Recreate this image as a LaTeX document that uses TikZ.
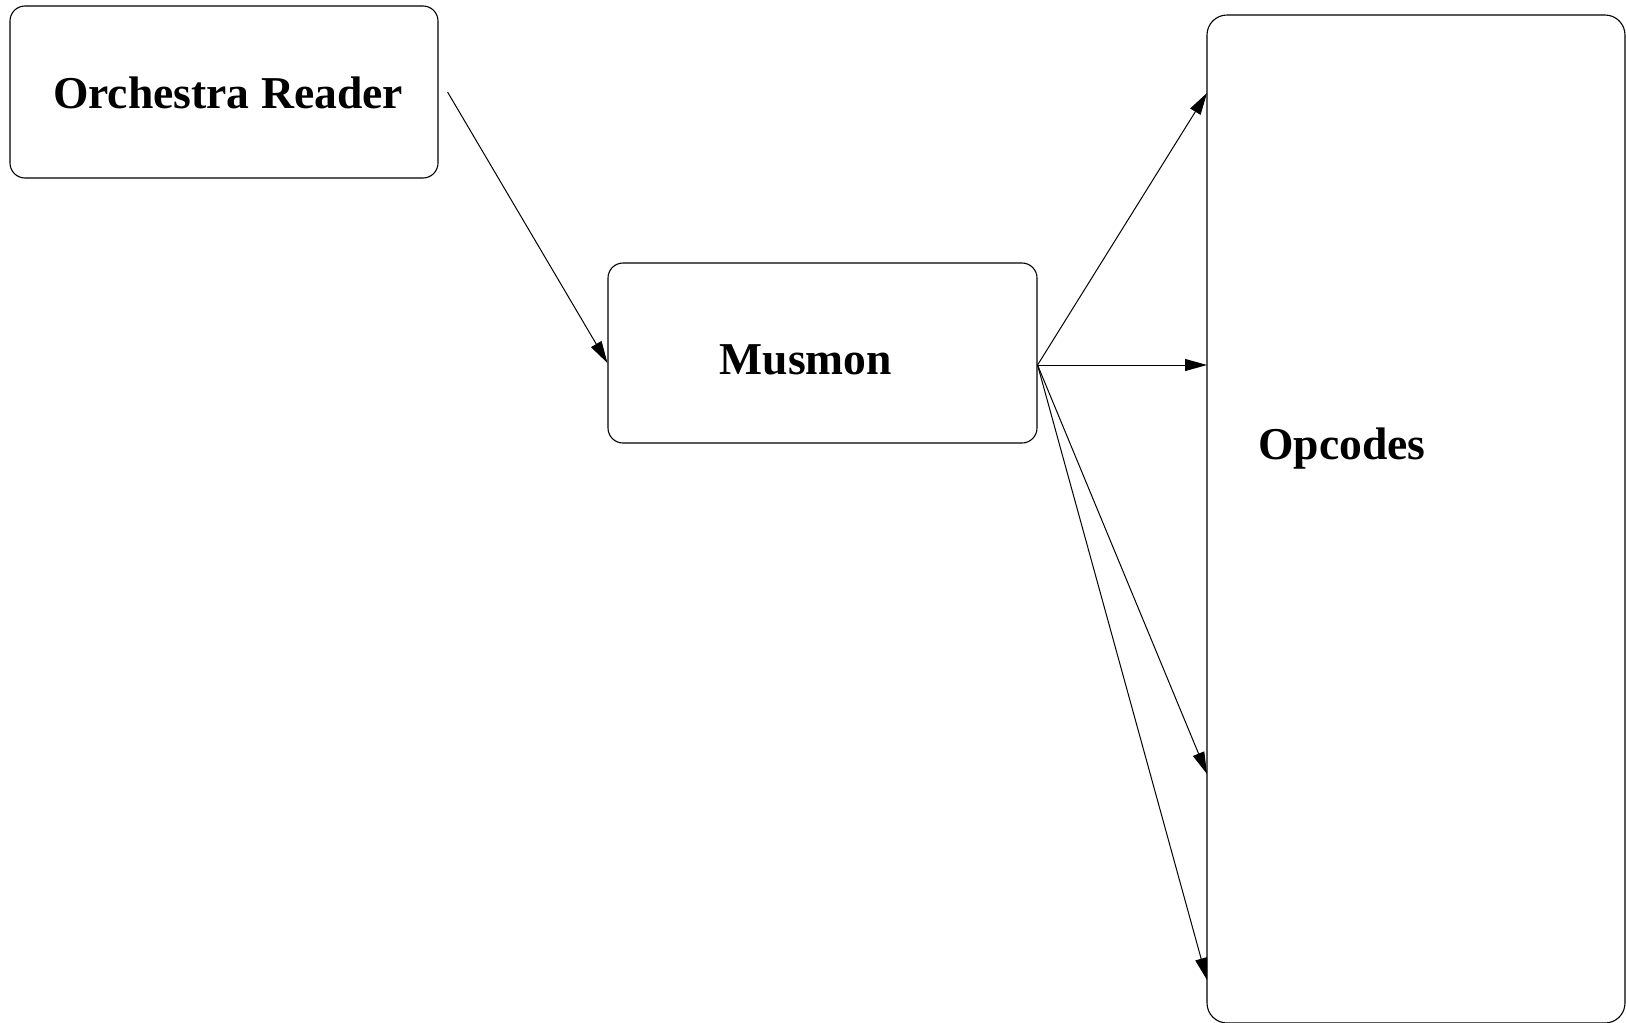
\documentclass[tikz,border=0pt]{standalone}
\usepackage{fontspec}
\setmainfont{Liberation Serif}
\usetikzlibrary{arrows.meta}
\begin{document}
\begin{tikzpicture}[x=1pt,y=-1pt,
  box/.style={draw=black,line width=1.1pt,rounded corners=15pt,inner sep=0pt},
  lbl/.style={font=\fontsize{45.6}{50}\selectfont\bfseries,anchor=base,inner sep=0pt},
  arr/.style={line width=1pt,-{Triangle[length=22pt,width=12pt]}}]
\useasboundingbox (0,0) rectangle (1626,1023);
\node[box,minimum width=428pt,minimum height=172pt] (orch) at (224,92) {};
\node[box,minimum width=429pt,minimum height=180pt] (mus) at (822.5,353) {};
\node[box,rounded corners=20pt,minimum width=418pt,minimum height=1008pt] (opc) at (1416,519) {};
\node[lbl] (orchT) at (228,108) {Orchestra Reader};
\node[lbl] (musT) at (806,374) {Musmon};
\node[lbl] (opcT) at (1342,459) {Opcodes};
\coordinate (s0) at ([xshift=9pt]orch.east);
\coordinate (e0) at ([yshift=-10pt]mus.west);
\coordinate (s1) at ([yshift=-12pt]mus.east);
\coordinate (t1) at (1207,93);
\coordinate (t2) at (1207,365);
\coordinate (t3) at (1207,774);
\coordinate (t4) at (1207,980);
\draw[arr] (s0) -- (e0);
\draw[arr] (s1) -- (t1);
\draw[arr] (s1) -- (t2);
\draw[arr] (s1) -- (t3);
\draw[arr] (s1) -- (t4);
\end{tikzpicture}
\end{document}
